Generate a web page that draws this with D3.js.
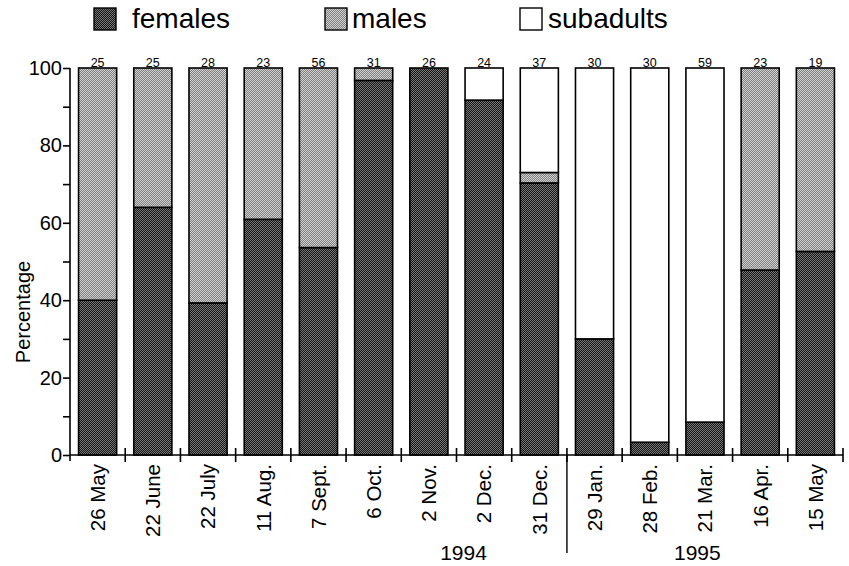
<!DOCTYPE html>
<html>
<head>
<meta charset="utf-8">
<script src="https://cdn.jsdelivr.net/npm/d3@7"></script>
<style>
  html, body { margin: 0; padding: 0; background: #fff; }
  svg { display: block; font-family: "Liberation Sans", Arial, Helvetica, sans-serif; }
</style>
</head>
<body>
<svg id="chart" width="849" height="566"></svg>
<script>
// Sampling dates (1994–1995) and number of animals caught on each date
const dates = ["26 May", "22 June", "22 July", "11 Aug.", "7 Sept.", "6 Oct.", "2 Nov.",
               "2 Dec.", "31 Dec.", "29 Jan.", "28 Feb.", "21 Mar.", "16 Apr.", "15 May"];
const sampleSize = [25, 25, 28, 23, 56, 31, 26, 24, 37, 30, 30, 59, 23, 19];

// Percentage composition of each sample
const females   = [40, 64, 39.3, 60.9, 53.6, 96.8, 100, 91.7, 70.3, 30, 3.3, 8.5, 47.8, 52.6];
const males     = [60, 36, 60.7, 39.1, 46.4, 3.2, 0, 0, 2.7, 0, 0, 0, 52.2, 47.4];
const subadults = [0, 0, 0, 0, 0, 0, 0, 8.3, 27, 70, 96.7, 91.5, 0, 0];

const groups = ["females", "males", "subadults"];
const yTicks = [0, 10, 20, 30, 40, 50, 60, 70, 80, 90, 100];
const years = ["1994", "1995"];

const rows = dates.map((d, i) => ({
  date: d, females: females[i], males: males[i], subadults: subadults[i]
}));

const svg = d3.select("#chart");

// Fill patterns: dense dark stipple, lighter stipple, plain white
const defs = svg.append("defs");
function checker(id, a, b) {
  const p = defs.append("pattern").attr("id", id)
    .attr("width", 2).attr("height", 2).attr("patternUnits", "userSpaceOnUse");
  p.append("rect").attr("width", 2).attr("height", 2).attr("fill", a);
  p.append("rect").attr("width", 1).attr("height", 1).attr("fill", b);
  p.append("rect").attr("x", 1).attr("y", 1).attr("width", 1).attr("height", 1).attr("fill", b);
}
checker("pat-females", "#151515", "#787878");
checker("pat-males", "#808080", "#d0d0d0");
const fills = { females: "url(#pat-females)", males: "url(#pat-males)", subadults: "#ffffff" };

const plotL = 70, plotR = 843, plotT = 68, plotB = 455;

const x = d3.scaleBand().domain(dates).range([plotL, plotR]).paddingInner(0.31).paddingOuter(0.155);
const xEdges = d3.scaleBand().domain(dates).range([plotL, plotR]).padding(0);
const y = d3.scaleLinear().domain([0, 100]).range([plotB, plotT]);

// Stacked bars
const series = d3.stack().keys(groups)(rows);
svg.append("g").selectAll("g").data(series).join("g")
  .attr("fill", s => fills[s.key])
  .selectAll("rect")
  .data(s => s.filter(d => d[1] - d[0] > 0))
  .join("rect")
  .attr("x", d => x(d.data.date))
  .attr("width", x.bandwidth())
  .attr("y", d => y(d[1]))
  .attr("height", d => y(d[0]) - y(d[1]))
  .attr("stroke", "#000")
  .attr("stroke-width", 1.6);

// Sample sizes above each bar
svg.append("g").selectAll("text").data(dates).join("text")
  .attr("x", d => x(d) + x.bandwidth() / 2)
  .attr("y", y(100) - 1)
  .attr("text-anchor", "middle")
  .attr("font-size", 12.5)
  .text((d, i) => sampleSize[i]);

// Y axis
const yAxis = svg.append("g").attr("transform", `translate(${plotL},0)`)
  .call(d3.axisLeft(y).tickValues(yTicks).tickSize(7).tickPadding(1)
    .tickFormat(d => d % 20 === 0 ? d : ""));
yAxis.select(".domain").attr("d", `M0,${plotT}V${plotB + 6}`).attr("stroke-width", 1.6);
yAxis.selectAll(".tick line").attr("stroke-width", 1.6);
yAxis.selectAll(".tick text").attr("font-size", 20).attr("fill", "#000")
  .attr("font-family", "Liberation Sans, Arial, sans-serif");

// X axis with ticks crossing the baseline at band edges
svg.append("line").attr("x1", plotL).attr("x2", plotR).attr("y1", plotB).attr("y2", plotB)
  .attr("stroke", "#000").attr("stroke-width", 1.6);
const edges = dates.map(d => xEdges(d)).concat([plotR]);
svg.append("g").selectAll("line").data(edges.slice(1)).join("line")
  .attr("x1", d => d).attr("x2", d => d)
  .attr("y1", plotB - 7).attr("y2", plotB + 7)
  .attr("stroke", "#000").attr("stroke-width", 1.6);

// Rotated date labels
svg.append("g").selectAll("text").data(dates).join("text")
  .attr("transform", d => `translate(${xEdges(d) + xEdges.bandwidth() / 2},${plotB + 9}) rotate(-90)`)
  .attr("text-anchor", "end")
  .attr("dy", "0.36em")
  .attr("font-size", 20.5)
  .text(d => d);

// Year separator and year labels
const split = xEdges("29 Jan.");
svg.append("line").attr("x1", split).attr("x2", split).attr("y1", plotB).attr("y2", 553)
  .attr("stroke", "#000").attr("stroke-width", 1.4);
const yearX = [xEdges("2 Dec.") + 7, xEdges("21 Mar.") + 20];
svg.append("g").selectAll("text").data(years).join("text")
  .attr("x", (d, i) => yearX[i]).attr("y", 560)
  .attr("text-anchor", "middle").attr("font-size", 21)
  .text(d => d);

// Y axis title
svg.append("text")
  .attr("transform", `translate(30,312) rotate(-90)`)
  .attr("text-anchor", "middle")
  .attr("font-size", 20)
  .text("Percentage");

// Legend
const legendItems = [
  { key: "females", sx: 94, tx: 132 },
  { key: "males", sx: 325, tx: 352 },
  { key: "subadults", sx: 520, tx: 548 }
];
const lg = svg.append("g");
lg.selectAll("rect").data(legendItems).join("rect")
  .attr("x", d => d.sx).attr("y", 8).attr("width", 22).attr("height", 22)
  .attr("fill", d => fills[d.key]).attr("stroke", "#000").attr("stroke-width", 1.4);
lg.selectAll("text").data(legendItems).join("text")
  .attr("x", d => d.tx).attr("y", 28).attr("font-size", 28)
  .text(d => d.key);
</script>
</body>
</html>
